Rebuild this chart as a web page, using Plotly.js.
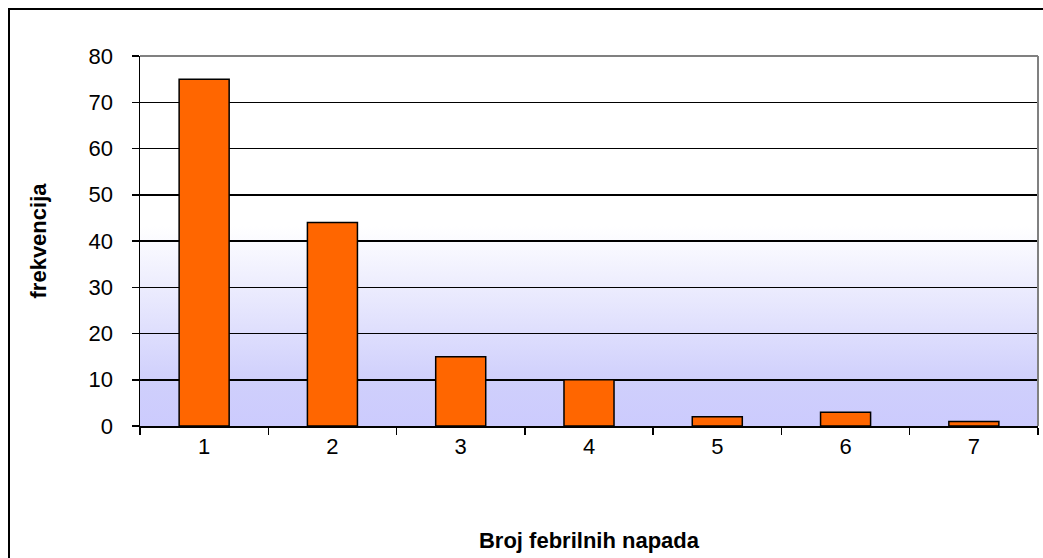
<!DOCTYPE html>
<html>
<head>
<meta charset="utf-8">
<script src="https://cdn.plot.ly/plotly-3.0.1.min.js"></script>
<style>
  html, body { margin: 0; padding: 0; background: #ffffff; }
  #wrap { position: relative; width: 1043px; height: 558px; overflow: hidden; }
  #bg { position: absolute; left: 140px; top: 56px; width: 898px; height: 370px;
        background: linear-gradient(to bottom, #ffffff 0%, #ffffff 46%, #cfcffc 88%, #cccbfd 100%); }
  #frame { position: absolute; left: 8px; top: 8px; width: 1040px; height: 560px;
           border: 2px solid #000; box-sizing: border-box; }
  #chart { position: absolute; left: 0; top: 0; width: 1043px; height: 558px; }
</style>
</head>
<body>
<div id="wrap">
  <div id="bg"></div>
  <div id="frame"></div>
  <div id="chart"></div>
</div>
<script>
const categories = ["1", "2", "3", "4", "5", "6", "7"];
const frequencies = [75, 44, 15, 10, 2, 3, 1];
const yTickValues = [0, 10, 20, 30, 40, 50, 60, 70, 80];

const trace = {
  type: "bar",
  x: categories,
  y: frequencies,
  marker: { color: "#FF6600", line: { color: "#000000", width: 1.5 } },
  hoverinfo: "x+y"
};

const layout = {
  width: 1043,
  height: 558,
  margin: { l: 140, r: 5, t: 56, b: 132 },
  paper_bgcolor: "rgba(0,0,0,0)",
  plot_bgcolor: "rgba(0,0,0,0)",
  bargap: 0.61,
  showlegend: false,
  font: { family: "Liberation Sans, Arial, sans-serif", color: "#000000", size: 22 },
  xaxis: {
    type: "category",
    showline: true, linecolor: "#000000", linewidth: 1.5,
    ticks: "outside", tickson: "boundaries", ticklen: 7, tickwidth: 1.5, tickcolor: "#000000",
    showgrid: false,
    tickfont: { size: 22 },
    title: { text: "Broj febrilnih napada", font: { size: 22, weight: "bold" }, standoff: 74 }
  },
  yaxis: {
    range: [0, 80],
    tickvals: yTickValues,
    showline: true, linecolor: "#000000", linewidth: 1.5,
    ticks: "outside", ticklen: 7, tickwidth: 1.5, tickcolor: "#000000",
    ticklabelstandoff: 14,
    showgrid: true, gridcolor: "#000000", gridwidth: 1.5,
    zeroline: false,
    tickfont: { size: 22 },
    title: { text: "frekvencija", font: { size: 22, weight: "bold" }, standoff: 36 }
  },
  shapes: [
    { type: "line", xref: "paper", yref: "paper", x0: 0, x1: 1, y0: 1, y1: 1,
      line: { color: "#808080", width: 2 }, layer: "above" },
    { type: "line", xref: "paper", yref: "paper", x0: 1, x1: 1, y0: 0, y1: 1,
      line: { color: "#808080", width: 2 }, layer: "above" }
  ]
};

Plotly.newPlot("chart", [trace], layout, { displayModeBar: false, staticPlot: true });
</script>
</body>
</html>
